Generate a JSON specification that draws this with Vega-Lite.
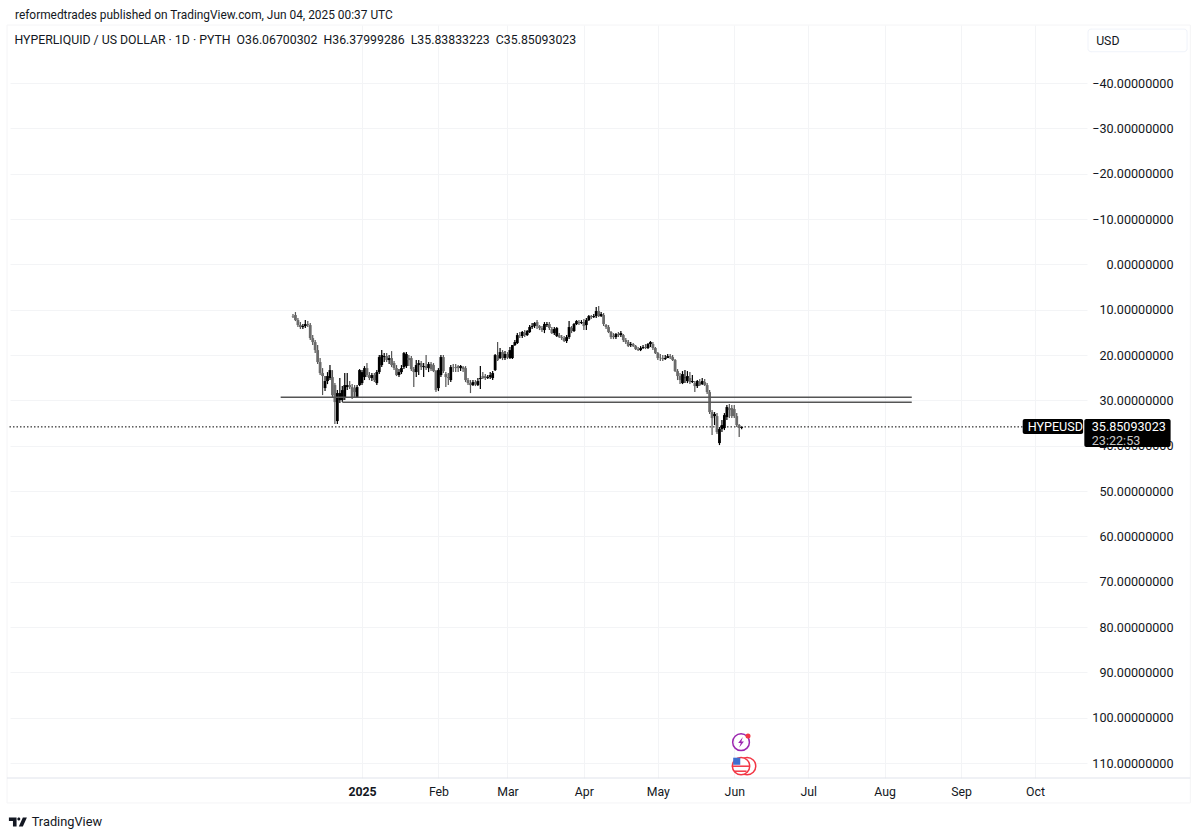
{
  "$schema": "https://vega.github.io/schema/vega-lite/v6.json",
  "autosize": "none",
  "width": 1077,
  "height": 753,
  "padding": {"left": 10, "top": 25, "right": 113, "bottom": 59},
  "background": "#ffffff",
  "config": {"view": {"stroke": null}, "font": "Roboto", "text": {"font": "Roboto"}},
  "title": {
    "text": "reformedtrades published on TradingView.com, Jun 04, 2025 00:37 UTC",
    "anchor": "start",
    "frame": "group",
    "dx": 5,
    "offset": 3,
    "fontSize": 11.9,
    "fontWeight": "normal",
    "font": "Roboto",
    "color": "#131722"
  },
  "encoding": {
    "x": {
      "field": "date",
      "type": "temporal",
      "title": null,
      "scale": {"type": "utc", "domain": ["2024-08-11T05:00:00Z", "2025-10-22T02:00:00Z"], "padding": 0},
      "axis": {
        "values": ["2025-01-01", "2025-02-01", "2025-03-01", "2025-04-01", "2025-05-01", "2025-06-01", "2025-07-01", "2025-08-01", "2025-09-01", "2025-10-01"],
        "labelExpr": "utcmonth(datum.value) == 0 ? '2025' : utcFormat(datum.value, '%b')",
        "labelFontWeight": {"condition": {"test": "utcmonth(datum.value) == 0", "value": "bold"}, "value": "normal"},
        "labelFontSize": 12.3,
        "labelColor": "#131722",
        "labelPadding": 7,
        "labelBound": false,
        "labelFlush": false,
        "labelOverlap": false,
        "domain": false,
        "ticks": false,
        "grid": true,
        "gridColor": "#f3f4f6"
      }
    },
    "y": {
      "field": "price",
      "type": "quantitative",
      "title": null,
      "scale": {"domain": [-52.8, 113.3], "reverse": true, "nice": false, "zero": false},
      "axis": {
        "orient": "right",
        "values": [-40, -30, -20, -10, 0, 10, 20, 30, 40, 50, 60, 70, 80, 90, 100, 110],
        "format": ".8f",
        "labelFontSize": 12.6,
        "labelColor": "#131722",
        "labelAlign": "right",
        "labelPadding": 86,
        "labelBound": false,
        "labelFlush": false,
        "labelOverlap": false,
        "domain": false,
        "ticks": false,
        "grid": true,
        "gridColor": "#f3f4f6"
      }
    }
  },
  "layer": [
    {
      "data": {"values": [
        {"date": "2024-08-10", "date2": "2025-12-03", "price": -52.8},
        {"date": "2024-08-10", "date2": "2025-12-03", "price": 118.8}
      ]},
      "mark": {"type": "rule", "color": "#f4f4f6", "size": 1},
      "encoding": {"x2": {"field": "date2"}}
    },
    {
      "data": {"values": [
        {"date": "2024-08-10", "price": -52.8, "price2": 118.8},
        {"date": "2025-12-03", "price": -52.8, "price2": 118.8}
      ]},
      "mark": {"type": "rule", "color": "#f4f4f6", "size": 1},
      "encoding": {"y2": {"field": "price2"}}
    },
    {
      "data": {"values": [{"date": "2024-08-10", "date2": "2025-12-03", "price": 113.3}]},
      "mark": {"type": "rule", "color": "#e0e3eb", "size": 1},
      "encoding": {"x2": {"field": "date2"}}
    },
    {
      "data": {"values": [{"date": "2024-08-11", "date2": "2025-09-26", "price": 35.85}]},
      "mark": {"type": "rule", "color": "#000000", "size": 1, "strokeDash": [1.5, 2]},
      "encoding": {"x2": {"field": "date2"}}
    },
    {
      "data": {"name": "candles", "values": [
        {"date":"2024-12-04","open":11.41,"high":11.85,"low":10.96,"close":11.5},
        {"date":"2024-12-05","open":11.18,"high":12.51,"low":10.52,"close":12.29},
        {"date":"2024-12-06","open":12.29,"high":13.83,"low":11.85,"close":13.39},
        {"date":"2024-12-07","open":13.39,"high":14.27,"low":12.73,"close":13.83},
        {"date":"2024-12-08","open":13.83,"high":14.27,"low":13.17,"close":13.61},
        {"date":"2024-12-09","open":13.61,"high":14.05,"low":12.29,"close":13.17},
        {"date":"2024-12-10","open":13.17,"high":13.83,"low":12.51,"close":13.39},
        {"date":"2024-12-11","open":13.39,"high":16.7,"low":12.95,"close":16.26},
        {"date":"2024-12-12","open":16.26,"high":17.8,"low":15.6,"close":17.14},
        {"date":"2024-12-13","open":17.14,"high":19.57,"low":16.7,"close":18.91},
        {"date":"2024-12-14","open":18.91,"high":21.99,"low":17.8,"close":21.55},
        {"date":"2024-12-15","open":21.55,"high":24.42,"low":20.67,"close":23.98},
        {"date":"2024-12-16","open":23.98,"high":28.83,"low":22.88,"close":24.64},
        {"date":"2024-12-17","open":27.29,"high":27.95,"low":24.64,"close":25.74},
        {"date":"2024-12-18","open":25.74,"high":26.41,"low":23.76,"close":24.64},
        {"date":"2024-12-19","open":25.08,"high":25.52,"low":22.21,"close":23.32},
        {"date":"2024-12-20","open":24.86,"high":29.27,"low":23.32,"close":28.83},
        {"date":"2024-12-21","open":26.63,"high":35.23,"low":26.19,"close":30.38},
        {"date":"2024-12-22","open":34.57,"high":35.23,"low":27.73,"close":28.39},
        {"date":"2024-12-23","open":29.94,"high":30.6,"low":25.08,"close":28.39},
        {"date":"2024-12-24","open":29.94,"high":30.38,"low":26.85,"close":27.73},
        {"date":"2024-12-25","open":29.27,"high":29.94,"low":23.98,"close":26.63},
        {"date":"2024-12-26","open":27.07,"high":27.73,"low":23.98,"close":26.63},
        {"date":"2024-12-27","open":26.63,"high":27.51,"low":25.74,"close":27.07},
        {"date":"2024-12-28","open":27.07,"high":29.72,"low":26.41,"close":29.27},
        {"date":"2024-12-29","open":27.29,"high":29.49,"low":26.63,"close":28.17},
        {"date":"2024-12-30","open":29.27,"high":29.49,"low":26.63,"close":27.07},
        {"date":"2024-12-31","open":26.63,"high":26.85,"low":23.1,"close":23.32},
        {"date":"2025-01-01","open":26.19,"high":26.63,"low":23.32,"close":23.76},
        {"date":"2025-01-02","open":24.86,"high":25.52,"low":22.44,"close":22.88},
        {"date":"2025-01-03","open":22.88,"high":24.86,"low":21.77,"close":24.42},
        {"date":"2025-01-04","open":24.42,"high":25.52,"low":23.76,"close":25.08},
        {"date":"2025-01-05","open":25.08,"high":25.74,"low":23.98,"close":24.42},
        {"date":"2025-01-06","open":24.42,"high":25.97,"low":23.98,"close":25.52},
        {"date":"2025-01-07","open":26.19,"high":26.63,"low":23.32,"close":23.76},
        {"date":"2025-01-08","open":23.76,"high":24.2,"low":20.01,"close":20.45},
        {"date":"2025-01-09","open":22.21,"high":22.66,"low":18.91,"close":20.01},
        {"date":"2025-01-10","open":20.45,"high":21.55,"low":19.57,"close":20.23},
        {"date":"2025-01-11","open":20.23,"high":21.55,"low":19.57,"close":21.11},
        {"date":"2025-01-12","open":21.11,"high":21.99,"low":20.01,"close":20.67},
        {"date":"2025-01-13","open":20.67,"high":22.66,"low":19.13,"close":22.21},
        {"date":"2025-01-14","open":21.77,"high":23.32,"low":21.33,"close":22.88},
        {"date":"2025-01-15","open":22.88,"high":24.64,"low":22.21,"close":24.42},
        {"date":"2025-01-16","open":24.42,"high":24.86,"low":23.1,"close":23.76},
        {"date":"2025-01-17","open":23.76,"high":24.2,"low":22.21,"close":22.88},
        {"date":"2025-01-18","open":22.66,"high":23.1,"low":19.35,"close":19.57},
        {"date":"2025-01-19","open":22.44,"high":22.88,"low":19.35,"close":19.79},
        {"date":"2025-01-20","open":20.67,"high":22.44,"low":20.01,"close":21.11},
        {"date":"2025-01-21","open":20.67,"high":23.54,"low":20.23,"close":23.1},
        {"date":"2025-01-22","open":23.1,"high":27.07,"low":22.66,"close":23.76},
        {"date":"2025-01-23","open":23.76,"high":24.86,"low":21.11,"close":22.21},
        {"date":"2025-01-24","open":22.21,"high":24.42,"low":21.11,"close":21.77},
        {"date":"2025-01-25","open":21.77,"high":23.32,"low":21.33,"close":22.66},
        {"date":"2025-01-26","open":22.66,"high":24.86,"low":21.77,"close":22.44},
        {"date":"2025-01-27","open":22.44,"high":23.32,"low":20.01,"close":22.88},
        {"date":"2025-01-28","open":22.88,"high":23.76,"low":21.55,"close":21.99},
        {"date":"2025-01-29","open":21.99,"high":23.54,"low":21.55,"close":23.1},
        {"date":"2025-01-30","open":22.21,"high":23.76,"low":21.77,"close":23.54},
        {"date":"2025-01-31","open":23.54,"high":28.17,"low":23.32,"close":27.73},
        {"date":"2025-02-01","open":27.29,"high":27.95,"low":22.88,"close":23.32},
        {"date":"2025-02-02","open":24.42,"high":24.86,"low":20.01,"close":20.45},
        {"date":"2025-02-03","open":20.45,"high":23.98,"low":20.01,"close":23.54},
        {"date":"2025-02-04","open":24.2,"high":27.07,"low":23.76,"close":24.86},
        {"date":"2025-02-05","open":24.86,"high":26.63,"low":23.98,"close":25.08},
        {"date":"2025-02-06","open":25.52,"high":25.97,"low":22.21,"close":22.66},
        {"date":"2025-02-07","open":22.66,"high":23.76,"low":21.99,"close":22.7},
        {"date":"2025-02-08","open":22.66,"high":23.76,"low":21.99,"close":22.88},
        {"date":"2025-02-09","open":22.44,"high":23.76,"low":22.21,"close":22.88},
        {"date":"2025-02-10","open":22.88,"high":23.54,"low":22.21,"close":22.44},
        {"date":"2025-02-11","open":22.66,"high":23.76,"low":22.44,"close":23.1},
        {"date":"2025-02-12","open":22.88,"high":25.97,"low":22.44,"close":25.52},
        {"date":"2025-02-13","open":25.52,"high":26.63,"low":25.08,"close":26.19},
        {"date":"2025-02-14","open":26.19,"high":28.39,"low":25.52,"close":26.63},
        {"date":"2025-02-15","open":26.63,"high":26.85,"low":25.52,"close":25.97},
        {"date":"2025-02-16","open":25.97,"high":26.85,"low":25.52,"close":26.41},
        {"date":"2025-02-17","open":26.63,"high":26.85,"low":25.08,"close":25.74},
        {"date":"2025-02-18","open":25.3,"high":27.51,"low":22.44,"close":25.08},
        {"date":"2025-02-19","open":24.64,"high":25.3,"low":23.76,"close":25.08},
        {"date":"2025-02-20","open":24.64,"high":25.52,"low":24.2,"close":25.08},
        {"date":"2025-02-21","open":25.08,"high":25.3,"low":24.42,"close":24.86},
        {"date":"2025-02-22","open":24.86,"high":25.3,"low":23.76,"close":24.42},
        {"date":"2025-02-23","open":25.08,"high":25.52,"low":23.54,"close":23.98},
        {"date":"2025-02-24","open":23.32,"high":23.54,"low":19.79,"close":20.01},
        {"date":"2025-02-25","open":20.01,"high":21.33,"low":17.14,"close":21.11},
        {"date":"2025-02-26","open":20.67,"high":20.89,"low":18.46,"close":19.35},
        {"date":"2025-02-27","open":19.35,"high":21.11,"low":18.91,"close":20.67},
        {"date":"2025-02-28","open":20.67,"high":21.11,"low":19.13,"close":19.79},
        {"date":"2025-03-01","open":19.79,"high":20.89,"low":19.35,"close":20.45},
        {"date":"2025-03-02","open":20.67,"high":20.89,"low":18.24,"close":18.91},
        {"date":"2025-03-03","open":20.67,"high":20.89,"low":17.8,"close":17.8},
        {"date":"2025-03-04","open":17.8,"high":18.02,"low":16.7,"close":17.14},
        {"date":"2025-03-05","open":17.36,"high":17.58,"low":15.16,"close":15.6},
        {"date":"2025-03-06","open":15.6,"high":16.26,"low":14.93,"close":15.7},
        {"date":"2025-03-07","open":15.82,"high":16.26,"low":14.71,"close":14.93},
        {"date":"2025-03-08","open":15.16,"high":16.04,"low":14.49,"close":15.6},
        {"date":"2025-03-09","open":15.6,"high":15.82,"low":14.49,"close":14.71},
        {"date":"2025-03-10","open":14.93,"high":15.16,"low":13.39,"close":13.83},
        {"date":"2025-03-11","open":13.83,"high":14.27,"low":12.95,"close":13.61},
        {"date":"2025-03-12","open":13.61,"high":14.05,"low":12.73,"close":12.95},
        {"date":"2025-03-13","open":12.73,"high":14.27,"low":12.29,"close":13.61},
        {"date":"2025-03-14","open":13.61,"high":14.49,"low":13.39,"close":14.05},
        {"date":"2025-03-15","open":14.05,"high":14.93,"low":13.61,"close":14.49},
        {"date":"2025-03-16","open":14.49,"high":15.16,"low":12.73,"close":13.17},
        {"date":"2025-03-17","open":13.39,"high":13.83,"low":12.73,"close":13.17},
        {"date":"2025-03-18","open":13.17,"high":14.49,"low":12.73,"close":14.05},
        {"date":"2025-03-19","open":14.27,"high":15.38,"low":13.83,"close":15.16},
        {"date":"2025-03-20","open":15.16,"high":15.6,"low":13.83,"close":14.27},
        {"date":"2025-03-21","open":15.82,"high":16.04,"low":13.83,"close":14.05},
        {"date":"2025-03-22","open":15.6,"high":16.26,"low":15.16,"close":16.04},
        {"date":"2025-03-23","open":16.04,"high":16.7,"low":15.6,"close":16.26},
        {"date":"2025-03-24","open":16.26,"high":17.14,"low":15.82,"close":16.92},
        {"date":"2025-03-25","open":16.92,"high":17.36,"low":15.6,"close":16.04},
        {"date":"2025-03-26","open":16.04,"high":16.48,"low":12.51,"close":13.83},
        {"date":"2025-03-27","open":14.05,"high":15.16,"low":13.61,"close":14.71},
        {"date":"2025-03-28","open":14.71,"high":14.93,"low":12.95,"close":13.17},
        {"date":"2025-03-29","open":13.17,"high":13.39,"low":12.29,"close":12.51},
        {"date":"2025-03-30","open":12.73,"high":13.39,"low":12.29,"close":12.95},
        {"date":"2025-03-31","open":12.95,"high":13.17,"low":12.29,"close":12.73},
        {"date":"2025-04-01","open":12.73,"high":14.49,"low":12.07,"close":13.61},
        {"date":"2025-04-02","open":13.39,"high":14.49,"low":11.85,"close":12.29},
        {"date":"2025-04-03","open":12.29,"high":12.51,"low":11.18,"close":11.41},
        {"date":"2025-04-04","open":11.41,"high":12.07,"low":11.18,"close":11.63},
        {"date":"2025-04-05","open":11.63,"high":11.85,"low":10.96,"close":11.41},
        {"date":"2025-04-06","open":11.41,"high":11.85,"low":9.42,"close":10.3},
        {"date":"2025-04-07","open":10.3,"high":11.63,"low":9.2,"close":11.41},
        {"date":"2025-04-08","open":11.41,"high":11.63,"low":10.52,"close":10.96},
        {"date":"2025-04-09","open":11.18,"high":13.61,"low":10.74,"close":13.17},
        {"date":"2025-04-10","open":13.39,"high":14.27,"low":13.17,"close":13.83},
        {"date":"2025-04-11","open":13.83,"high":15.16,"low":13.39,"close":14.93},
        {"date":"2025-04-12","open":14.93,"high":16.48,"low":14.71,"close":16.04},
        {"date":"2025-04-13","open":15.82,"high":16.48,"low":15.16,"close":16.04},
        {"date":"2025-04-14","open":16.04,"high":16.48,"low":15.16,"close":15.38},
        {"date":"2025-04-15","open":15.38,"high":16.04,"low":14.93,"close":15.6},
        {"date":"2025-04-16","open":15.6,"high":16.04,"low":14.71,"close":15.16},
        {"date":"2025-04-17","open":15.6,"high":17.14,"low":15.38,"close":16.7},
        {"date":"2025-04-18","open":16.7,"high":17.58,"low":16.26,"close":17.14},
        {"date":"2025-04-19","open":17.14,"high":18.24,"low":16.7,"close":18.02},
        {"date":"2025-04-20","open":17.8,"high":18.24,"low":17.14,"close":17.58},
        {"date":"2025-04-21","open":17.58,"high":18.24,"low":17.36,"close":18.02},
        {"date":"2025-04-22","open":18.02,"high":18.91,"low":17.8,"close":18.69},
        {"date":"2025-04-23","open":18.69,"high":19.13,"low":18.24,"close":18.91},
        {"date":"2025-04-24","open":18.91,"high":19.13,"low":18.02,"close":18.46},
        {"date":"2025-04-25","open":18.46,"high":18.69,"low":17.8,"close":18.24},
        {"date":"2025-04-26","open":18.24,"high":18.69,"low":17.58,"close":18.46},
        {"date":"2025-04-27","open":18.46,"high":18.69,"low":17.36,"close":17.58},
        {"date":"2025-04-28","open":17.58,"high":18.24,"low":16.92,"close":17.14},
        {"date":"2025-04-29","open":17.58,"high":18.91,"low":17.14,"close":18.46},
        {"date":"2025-04-30","open":18.46,"high":19.79,"low":18.24,"close":19.57},
        {"date":"2025-05-01","open":19.57,"high":21.11,"low":19.35,"close":20.67},
        {"date":"2025-05-02","open":20.45,"high":21.33,"low":19.79,"close":20.5},
        {"date":"2025-05-03","open":20.67,"high":21.33,"low":20.01,"close":20.89},
        {"date":"2025-05-04","open":20.89,"high":21.11,"low":20.01,"close":20.67},
        {"date":"2025-05-05","open":20.67,"high":20.67,"low":19.79,"close":20.23},
        {"date":"2025-05-06","open":20.23,"high":20.89,"low":19.79,"close":20.45},
        {"date":"2025-05-07","open":20.45,"high":21.33,"low":20.01,"close":21.11},
        {"date":"2025-05-08","open":21.11,"high":23.76,"low":20.89,"close":23.54},
        {"date":"2025-05-09","open":23.54,"high":25.52,"low":23.1,"close":24.64},
        {"date":"2025-05-10","open":24.64,"high":26.41,"low":23.98,"close":25.52},
        {"date":"2025-05-11","open":26.19,"high":26.41,"low":23.54,"close":24.2},
        {"date":"2025-05-12","open":25.08,"high":26.19,"low":23.32,"close":25.0},
        {"date":"2025-05-13","open":25.74,"high":26.19,"low":23.54,"close":24.64},
        {"date":"2025-05-14","open":25.08,"high":26.41,"low":23.76,"close":25.97},
        {"date":"2025-05-15","open":25.97,"high":26.19,"low":24.42,"close":25.74},
        {"date":"2025-05-16","open":26.19,"high":28.17,"low":25.74,"close":26.85},
        {"date":"2025-05-17","open":26.85,"high":27.29,"low":25.52,"close":25.74},
        {"date":"2025-05-18","open":25.97,"high":26.85,"low":25.3,"close":26.63},
        {"date":"2025-05-19","open":26.41,"high":26.63,"low":25.08,"close":25.74},
        {"date":"2025-05-20","open":25.97,"high":26.85,"low":25.3,"close":26.63},
        {"date":"2025-05-21","open":26.63,"high":28.61,"low":26.19,"close":28.17},
        {"date":"2025-05-22","open":28.17,"high":33.02,"low":27.73,"close":32.58},
        {"date":"2025-05-23","open":32.58,"high":37.66,"low":32.14,"close":33.91},
        {"date":"2025-05-24","open":33.47,"high":35.45,"low":32.58,"close":33.02},
        {"date":"2025-05-25","open":33.47,"high":37.44,"low":32.8,"close":37.0},
        {"date":"2025-05-26","open":39.42,"high":39.86,"low":35.89,"close":36.33},
        {"date":"2025-05-27","open":36.33,"high":37.0,"low":34.35,"close":35.45},
        {"date":"2025-05-28","open":36.11,"high":36.55,"low":32.8,"close":33.25},
        {"date":"2025-05-29","open":33.69,"high":34.35,"low":31.04,"close":31.48},
        {"date":"2025-05-30","open":31.7,"high":33.91,"low":30.82,"close":32.14},
        {"date":"2025-05-31","open":31.7,"high":33.91,"low":31.04,"close":33.47},
        {"date":"2025-06-01","open":31.92,"high":33.91,"low":31.04,"close":33.47},
        {"date":"2025-06-02","open":33.47,"high":35.89,"low":32.8,"close":35.45},
        {"date":"2025-06-03","open":35.45,"high":38.1,"low":35.23,"close":36.07},
        {"date":"2025-06-04","open":36.067,"high":36.38,"low":35.838,"close":35.851}
      ]},
      "layer": [
        {
          "mark": {"type": "rule", "size": 1.2},
          "encoding": {
            "y": {"field": "low", "type": "quantitative", "title": null},
            "y2": {"field": "high"},
            "color": {"condition": {"test": "datum.close > datum.open", "value": "#555555"}, "value": "#000000"}
          }
        },
        {
          "mark": {"type": "bar", "width": 2.8, "orient": "vertical"},
          "encoding": {
            "y": {"field": "open", "type": "quantitative", "title": null},
            "y2": {"field": "close"},
            "color": {"condition": {"test": "datum.close > datum.open", "value": "#6a6a6a"}, "value": "#000000"}
          }
        }
      ]
    },
    {
      "data": {"values": [
        {"date": "2024-11-29", "date2": "2025-08-12", "price": 29.3},
        {"date": "2024-12-24", "date2": "2025-08-12", "price": 30.4}
      ]},
      "mark": {"type": "rule", "color": "#555555", "size": 1.5},
      "encoding": {"x2": {"field": "date2"}}
    },
    {
      "data": {"values": [
        {"date": "2025-09-26", "date2": "2025-10-20T12:00:00Z", "price": 34.13, "price2": 37.44},
        {"date": "2025-10-21", "date2": "2025-11-25", "price": 34.13, "price2": 40.3}
      ]},
      "mark": {"type": "rect", "color": "#000000", "cornerRadius": 2},
      "encoding": {"x2": {"field": "date2"}, "y2": {"field": "price2"}}
    },
    {
      "data": {"values": [
        {"date": "2025-09-28", "price": 35.89, "label": "HYPEUSD"},
        {"date": "2025-10-24", "price": 35.89, "label": "35.85093023"}
      ]},
      "mark": {"type": "text", "color": "#ffffff", "align": "left", "fontSize": 12.6},
      "encoding": {"text": {"field": "label"}}
    },
    {
      "data": {"values": [{"date": "2025-10-24", "price": 38.98, "label": "23:22:53"}]},
      "mark": {"type": "text", "color": "#c9c9c9", "align": "left", "fontSize": 12.6},
      "encoding": {"text": {"field": "label"}}
    },
    {
      "data": {"values": [{"date": "2025-10-22T12:00:00Z", "date2": "2025-12-01T16:00:00Z", "price": -51.9, "price2": -46.9}]},
      "mark": {"type": "rect", "fill": "#ffffff", "stroke": "#f0f3fa", "cornerRadius": 3},
      "encoding": {"x2": {"field": "date2"}, "y2": {"field": "price2"}}
    },
    {
      "data": {"values": [
        {"date": "2025-10-25T19:00:00Z", "price": -49.3, "label": "USD"},
        {"date": "2024-08-13", "price": -49.5, "label": "HYPERLIQUID / US DOLLAR · 1D · PYTH\u00a0\u00a0O36.06700302\u00a0\u00a0H36.37999286\u00a0\u00a0L35.83833223\u00a0\u00a0C35.85093023"}
      ]},
      "mark": {"type": "text", "color": "#131722", "align": "left", "fontSize": 12.3},
      "encoding": {"text": {"field": "label"}}
    },
    {
      "data": {"values": [{"date": "2024-08-20", "price": 123, "label": "TradingView"}]},
      "mark": {"type": "text", "color": "#131722", "align": "left", "fontSize": 12.8},
      "encoding": {"text": {"field": "label"}}
    },
    {
      "data": {"values": [{"date": "2024-08-14T10:00:00Z", "price": 123}]},
      "mark": {"type": "point", "filled": true, "color": "#131722", "opacity": 1, "size": 324, "shape": "M-1,-.5H-.15V.5H-.55V-.1H-1Z M.1,-.5 a.17,.17 0 1 0 .001,0 Z M.55,-.5H1L.55,.5H.1Z"}
    },
    {
      "data": {"values": [{"date": "2025-06-03T18:00:00Z", "price": 105.4}]},
      "mark": {"type": "point", "shape": "circle", "filled": false, "stroke": "#9c27b0", "strokeWidth": 1.5, "opacity": 1, "size": 280}
    },
    {
      "data": {"values": [{"date": "2025-06-03T18:00:00Z", "price": 105.4}]},
      "mark": {"type": "point", "filled": true, "color": "#9c27b0", "opacity": 1, "size": 110, "shape": "M.35,-1L-.55,.15H-.05L-.35,1L.55,-.15H.05Z"}
    },
    {
      "data": {"values": [{"date": "2025-06-06T14:00:00Z", "price": 104.06}]},
      "mark": {"type": "point", "shape": "circle", "filled": true, "color": "#f23645", "opacity": 1, "size": 25}
    },
    {
      "data": {"values": [
        {"date": "2025-06-06T05:00:00Z", "price": 110.7},
        {"date": "2025-06-03T18:00:00Z", "price": 110.7}
      ]},
      "mark": {"type": "point", "shape": "circle", "filled": true, "fill": "#ffffff", "stroke": "#f23645", "strokeWidth": 1.5, "opacity": 1, "size": 300}
    },
    {
      "data": {"values": [
        {"date": "2025-05-31", "date2": "2025-06-07", "price": 110.7},
        {"date": "2025-06-01", "date2": "2025-06-06", "price": 111.8}
      ]},
      "mark": {"type": "rule", "color": "#f23645", "size": 1.5},
      "encoding": {"x2": {"field": "date2"}}
    },
    {
      "data": {"values": [{"date": "2025-06-02", "price": 109.6}]},
      "mark": {"type": "point", "shape": "square", "filled": true, "color": "#3f6fd0", "opacity": 1, "size": 50}
    }
  ]
}
